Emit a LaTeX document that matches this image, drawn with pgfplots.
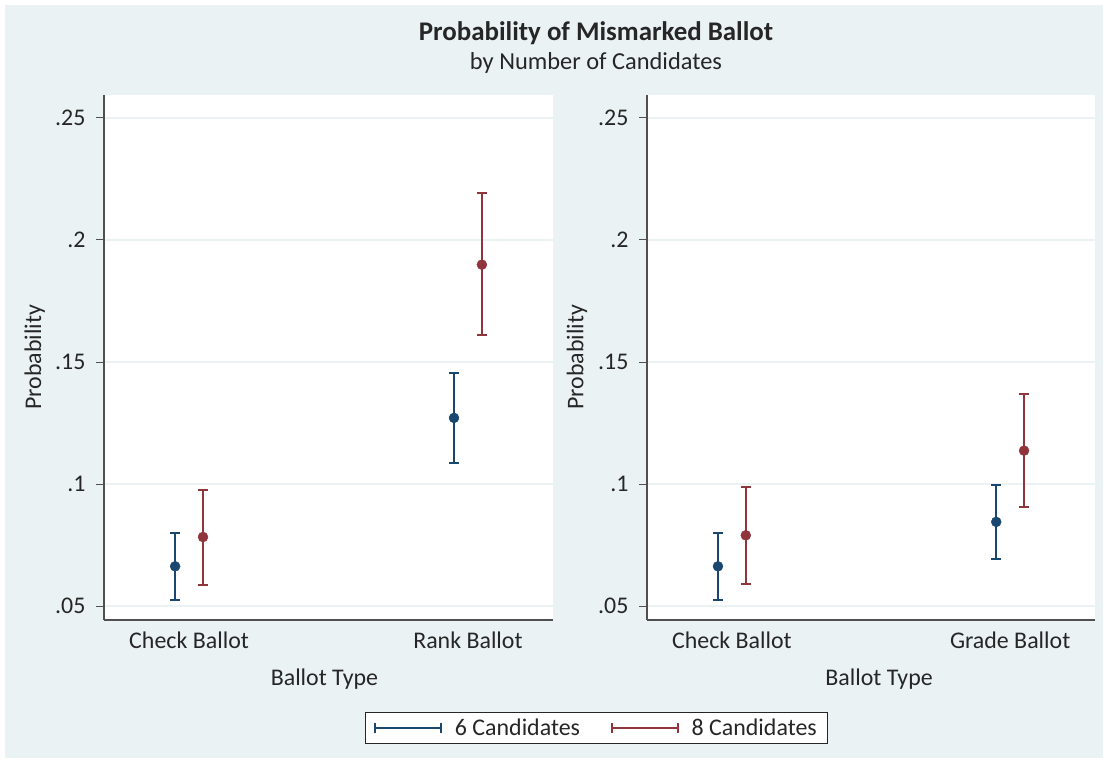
\documentclass[border=0pt]{standalone}
\usepackage{pgfplots}
\pgfplotsset{compat=1.18}
\usepackage{fontspec}
\setmainfont{Carlito}
\definecolor{stnavy}{HTML}{1A476F}
\definecolor{stmaroon}{HTML}{90353B}
\definecolor{stbg}{HTML}{EAF2F3}
\definecolor{stgrid}{HTML}{EAF2F3}
\definecolor{staxis}{HTML}{505050}

\newcommand{\stfont}{\fontsize{24}{28}\selectfont}

\pgfplotsset{
  stpanel/.style={
    scale only axis,
    anchor=south west,
    height=525bp,
    xmin=0.695, xmax=2.305,
    ymin=0.0443, ymax=0.2594,
    axis lines*=left,
    axis line style={staxis, line width=1.1bp},
    axis background/.style={fill=white},
    tick align=outside,
    major tick length=8bp,
    ytick={0.05,0.1,0.15,0.2,0.25},
    yticklabels={.05,.1,.15,.2,.25},
    ytick style={staxis, line width=1bp},
    yticklabel style={xshift=-7bp},
    xtick={1,2},
    xtick style={draw=none},
    ymajorgrids=true,
    grid style={stgrid, line width=1.5bp},
    tick label style={font=\stfont, text=black!85},
    ylabel={Probability},
    xlabel={Ballot Type},
    /pgf/number format/assume math mode=true,
    error bars/y dir=both,
    error bars/y explicit,
    error bars/error mark options={rotate=90, mark size=5bp, line width=2bp},
  },
  sixc/.style={only marks, mark=*, mark size=5bp, color=stnavy,
    mark options={draw=stnavy, fill=stnavy},
    error bars/error bar style={stnavy, line width=2bp}},
  eightc/.style={only marks, mark=*, mark size=5bp, color=stmaroon,
    mark options={draw=stmaroon, fill=stmaroon},
    error bars/error bar style={stmaroon, line width=1.8bp}},
}

\begin{document}
\begin{tikzpicture}[x=1bp,y=1bp]
\useasboundingbox (0,0) rectangle (1105,-760);
\fill[white] (0,0) rectangle (1105,-760);
\fill[stbg] (5,-5) rectangle (1103,-758);

\node[font=\fontsize{27}{31}\selectfont\bfseries, text=black!85] at (596,-33) {Probability of Mismarked Ballot};
\node[font=\fontsize{24.5}{28}\selectfont, text=black!85] at (596,-63) {by Number of Candidates};

% left panel
\begin{axis}[stpanel, at={(104bp,-620bp)}, width=449bp,
    xticklabels={Check Ballot, Rank Ballot},
    every axis y label/.style={at={(axis description cs:-0.154,0.5)}, rotate=90, anchor=center, font=\stfont, text=black!85},
    every axis x label/.style={at={(axis description cs:0.491,-0.112)}, anchor=center, font=\stfont, text=black!85},
    legend columns=2,
    legend style={at={(axis description cs:1.097,-0.2057)}, anchor=center,
      draw=black!85, line width=1bp, fill=white,
      font=\stfont, text=black!85,
      /tikz/every odd column/.append style={column sep=11bp},
      /tikz/every even column/.append style={column sep=29bp},
      inner xsep=9bp, inner ysep=4bp},
    legend image code/.code={
      \draw[#1] (0bp,0bp) -- (66bp,0bp);
      \draw[#1] (0bp,-5bp) -- (0bp,5bp);
      \draw[#1] (66bp,-5bp) -- (66bp,5bp);
    },
  ]
\addplot[sixc, forget plot] coordinates {
  (0.95,0.0663) += (0,0.0137) -= (0,0.0136)
  (1.95,0.1271) += (0,0.0182) -= (0,0.0185)
};
\addplot[eightc, forget plot] coordinates {
  (1.05,0.0783) += (0,0.0194) -= (0,0.0196)
  (2.05,0.1899) += (0,0.0292) -= (0,0.0290)
};
\addlegendimage{stnavy, line width=1.6bp}
\addlegendentry{6 Candidates}
\addlegendimage{stmaroon, line width=1.6bp}
\addlegendentry{8 Candidates}
\end{axis}

% right panel
\begin{axis}[stpanel, at={(647bp,-620bp)}, width=448bp,
    xticklabels={Check Ballot, Grade Ballot},
    every axis y label/.style={at={(axis description cs:-0.156,0.5)}, rotate=90, anchor=center, font=\stfont, text=black!85},
    every axis x label/.style={at={(axis description cs:0.518,-0.112)}, anchor=center, font=\stfont, text=black!85},
  ]
\addplot[sixc] coordinates {
  (0.95,0.0663) += (0,0.0137) -= (0,0.0136)
  (1.95,0.0845) += (0,0.0153) -= (0,0.0151)
};
\addplot[eightc] coordinates {
  (1.05,0.0790) += (0,0.0199) -= (0,0.0199)
  (2.05,0.1137) += (0,0.0231) -= (0,0.0231)
};
\end{axis}
\end{tikzpicture}
\end{document}
